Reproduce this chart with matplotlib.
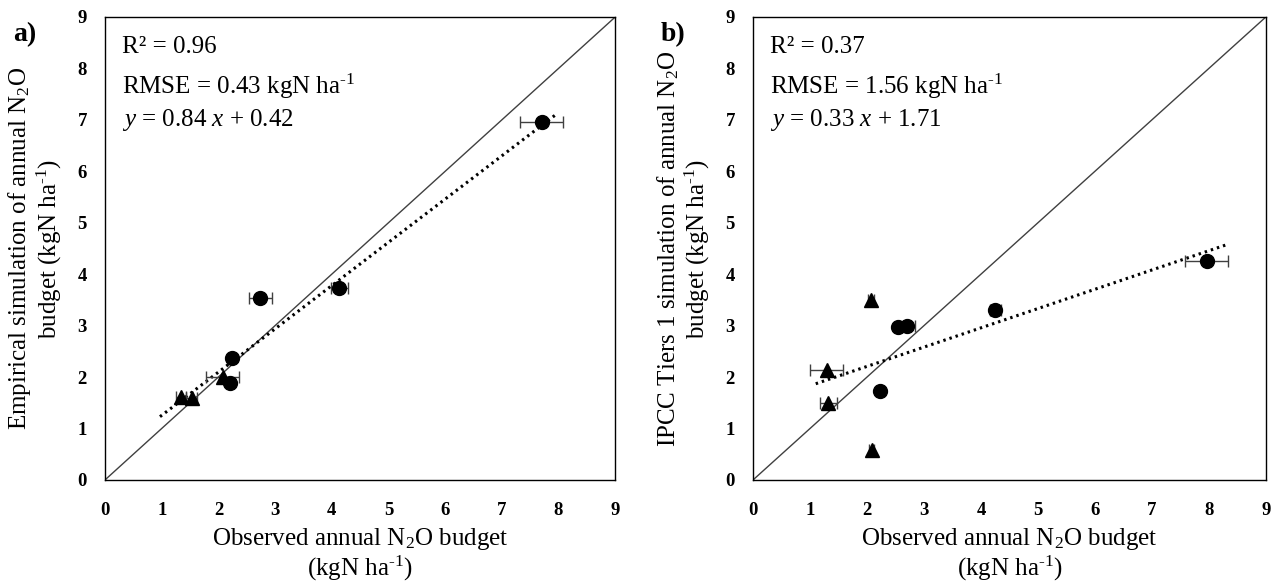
import matplotlib
matplotlib.use('Agg')
import matplotlib.pyplot as plt
import numpy as np

plt.rcParams['font.family'] = ['Liberation Serif', 'DejaVu Serif']
plt.rcParams['mathtext.fontset'] = 'custom'
plt.rcParams['mathtext.rm'] = 'Liberation Serif'
plt.rcParams['mathtext.it'] = 'Liberation Serif:italic'
plt.rcParams['mathtext.bf'] = 'Liberation Serif:bold'

# panel a: empirical model
a_circ_x = [7.70, 4.13, 2.74, 2.24, 2.20]
a_circ_y = [6.95, 3.73, 3.54, 2.37, 1.88]
a_circ_err = [0.38, 0.15, 0.20, 0.05, 0.05]
a_tri_x = [2.08, 1.34, 1.53]
a_tri_y = [2.01, 1.62, 1.59]
a_tri_err = [0.29, 0.09, 0.10]
a_trend_x = [0.97, 7.95]
a_trend_y = [1.23, 7.10]
a_stats = ['R² = 0.96', 'RMSE = 0.43 kgN ha$^{\\text{-1}}$', '$y$ = 0.84 $x$ + 0.42']

# panel b: IPCC Tier 1
b_circ_x = [7.96, 4.25, 2.55, 2.70, 2.23]
b_circ_y = [4.26, 3.30, 2.97, 3.00, 1.73]
b_circ_err = [0.38, 0.10, 0.05, 0.15, 0.03]
b_tri_x = [2.07, 1.29, 1.32, 2.08]
b_tri_y = [3.50, 2.14, 1.49, 0.58]
b_tri_err = [0.05, 0.29, 0.15, 0.05]
b_trend_x = [1.10, 8.33]
b_trend_y = [1.87, 4.58]
b_stats = ['R² = 0.37', 'RMSE = 1.56 kgN ha$^{\\text{-1}}$', '$y$ = 0.33 $x$ + 1.71']

ticks = list(range(10))
xlab = 'Observed annual N$_2$O budget\n(kgN ha$^{\\text{-1}}$)'
ylab_a = 'Empirical simulation of annual N$_2$O\nbudget (kgN ha$^{\\text{-1}}$)'
ylab_b = 'IPCC Tiers 1 simulation of annual N$_2$O\nbudget (kgN ha$^{\\text{-1}}$)'

fig = plt.figure(figsize=(12.82, 5.86), dpi=100)
ax_a = fig.add_axes([0.0819, 0.181, 0.398, 0.790])
ax_b = fig.add_axes([0.5874, 0.181, 0.400, 0.790])


def draw_panel(ax, cx, cy, cerr, tx, ty, terr, trx, try_, stats, ylab, tag):
    ax.plot([0, 9], [0, 9], color='#404040', lw=1.0, zorder=1)
    ax.errorbar(cx, cy, xerr=cerr, fmt='o', ms=10, color='black',
                ecolor='#404040', elinewidth=1, capsize=4, capthick=1, zorder=3)
    ax.errorbar(tx, ty, xerr=terr, fmt='^', ms=9.5, color='black',
                ecolor='#404040', elinewidth=1, capsize=4, capthick=1, zorder=3)
    ax.plot(trx, try_, color='black', lw=2.2,
            linestyle=(0, (0.8, 1.3)), zorder=2)
    ax.set_xlim(0, 9)
    ax.set_ylim(0, 9)
    ax.set_xticks(ticks)
    ax.set_yticks(ticks)
    ax.tick_params(axis='x', length=0, pad=16, labelsize=13.5)
    ax.tick_params(axis='y', length=0, pad=13, labelsize=13.5)
    for lb in ax.get_xticklabels() + ax.get_yticklabels():
        lb.set_fontweight('bold')
    for sp in ax.spines.values():
        sp.set_color('black')
        sp.set_linewidth(1.0)
    ax.set_xlabel(xlab, fontsize=18, linespacing=1.1, labelpad=5)
    ax.set_ylabel(ylab, fontsize=18, linespacing=1.05, labelpad=10)
    for i, s in enumerate(stats):
        ax.text(0.033, 0.958 - i * 0.076, s, transform=ax.transAxes,
                fontsize=18, va='top', ha='left')
    ax.text(-0.18, 0.99, tag, transform=ax.transAxes, fontsize=20,
            fontweight='bold', va='top', ha='left')


draw_panel(ax_a, a_circ_x, a_circ_y, a_circ_err, a_tri_x, a_tri_y, a_tri_err,
           a_trend_x, a_trend_y, a_stats, ylab_a, 'a)')
draw_panel(ax_b, b_circ_x, b_circ_y, b_circ_err, b_tri_x, b_tri_y, b_tri_err,
           b_trend_x, b_trend_y, b_stats, ylab_b, 'b)')

fig.savefig('out.png', dpi=100)
